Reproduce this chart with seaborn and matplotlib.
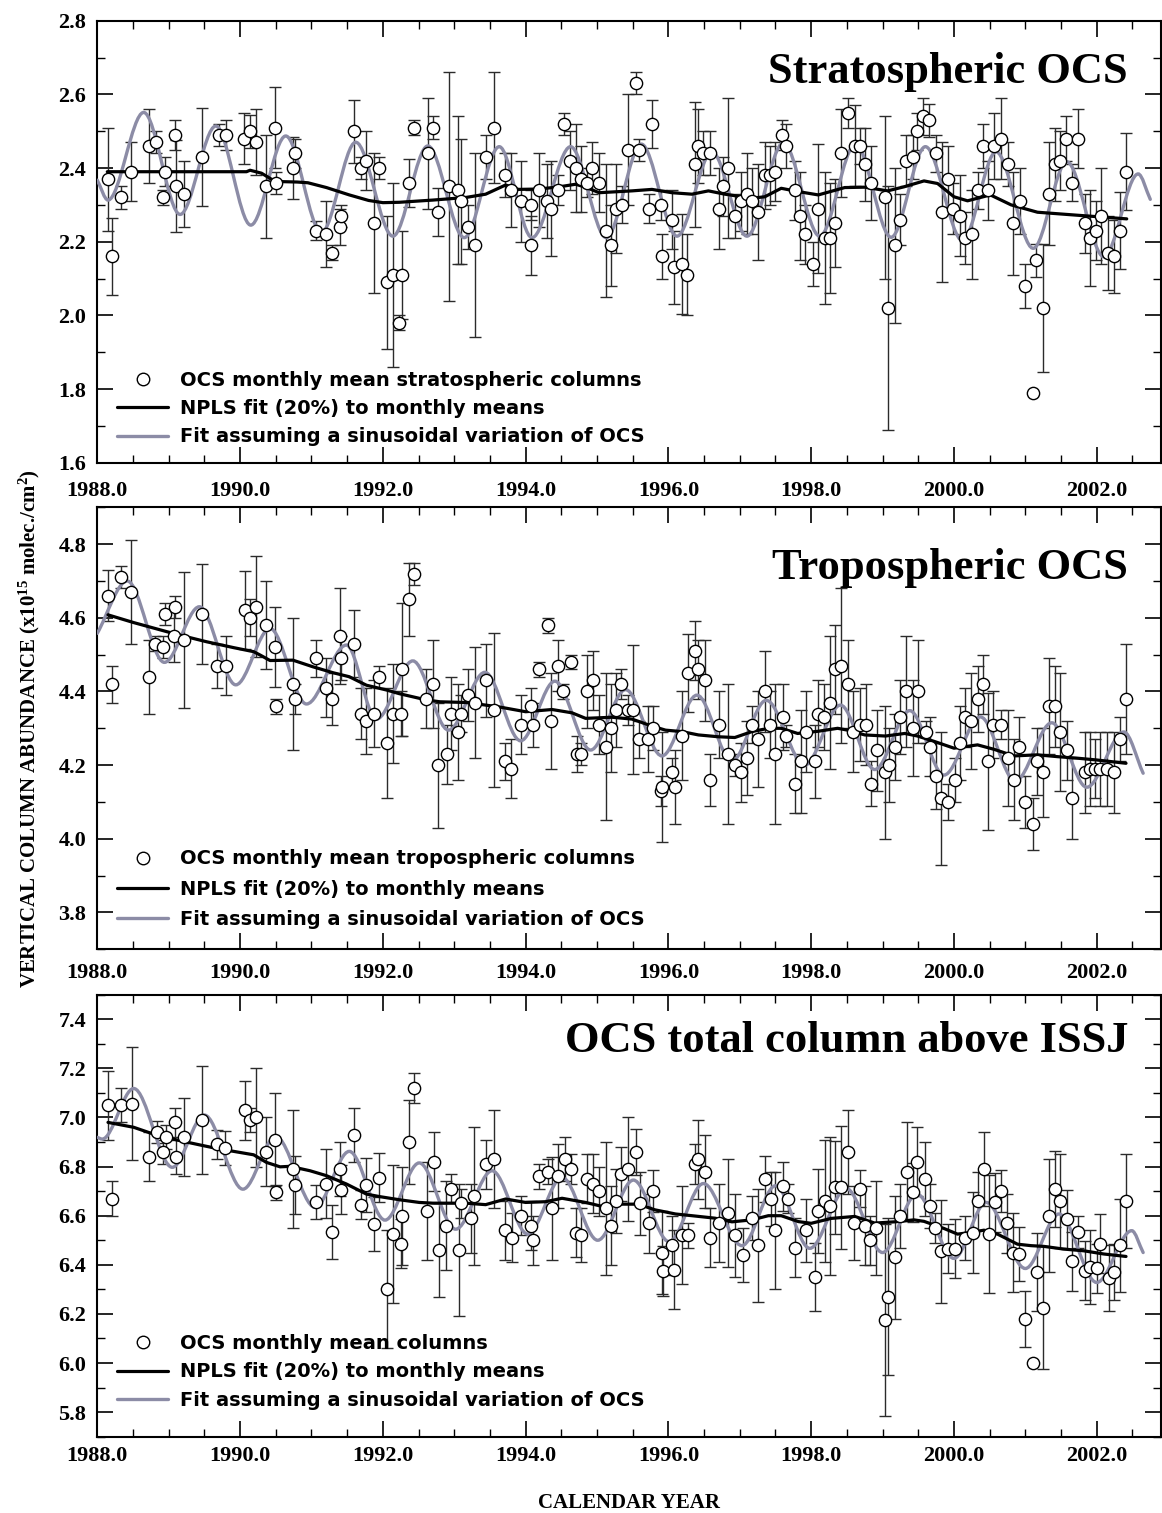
import numpy as np
import pandas as pd
import matplotlib
matplotlib.use("Agg")
import matplotlib.pyplot as plt
import seaborn as sns
from matplotlib.path import Path
from matplotlib.patches import PathPatch
from matplotlib.lines import Line2D

# ---------------- DATA ----------------
strat_year = [1988.15,1988.20,1988.33,1988.47,1988.72,1988.82,1988.92,1988.95,1989.09,1989.10,
              1989.21,1989.46,1989.70,1989.80,1990.06,1990.14,1990.22,1990.37,1990.49,1990.50,
              1990.74,1990.77,1991.06,1991.20,1991.29,1991.40,1991.41,1991.60,1991.69,1991.77,
              1991.88,1991.95,1992.06,1992.14,1992.23,1992.27,1992.36,1992.44,1992.63,1992.70,
              1992.77,1992.92,1993.05,1993.10,1993.19,1993.29,1993.44,1993.56,1993.71,1993.79,
              1993.93,1994.07,1994.08,1994.19,1994.30,1994.36,1994.46,1994.54,1994.62,1994.70,
              1994.77,1994.86,1994.93,1995.03,1995.13,1995.19,1995.26,1995.35,1995.44,1995.54,
              1995.59,1995.73,1995.77,1995.90,1995.91,1996.05,1996.08,1996.19,1996.26,1996.37,
              1996.42,1996.49,1996.58,1996.71,1996.77,1996.83,1996.93,1997.02,1997.10,1997.17,
              1997.25,1997.35,1997.42,1997.50,1997.59,1997.65,1997.77,1997.85,1997.92,1998.03,
              1998.09,1998.19,1998.27,1998.34,1998.42,1998.51,1998.61,1998.68,1998.76,1998.84,
              1999.03,1999.08,1999.17,1999.25,1999.33,1999.42,1999.48,1999.57,1999.65,1999.75,
              1999.83,1999.91,1999.99,2000.09,2000.16,2000.25,2000.33,2000.41,2000.48,2000.56,
              2000.66,2000.75,2000.83,2000.92,2000.99,2001.11,2001.15,2001.25,2001.33,2001.42,
              2001.49,2001.57,2001.65,2001.74,2001.83,2001.90,2001.99,2002.06,2002.16,2002.24,
              2002.33,2002.41]
strat_col = [2.37,2.16,2.32,2.39,2.46,2.47,2.32,2.39,2.49,2.35,
             2.33,2.43,2.49,2.49,2.48,2.50,2.47,2.35,2.51,2.36,
             2.40,2.44,2.23,2.22,2.17,2.24,2.27,2.50,2.40,2.42,
             2.25,2.40,2.09,2.11,1.98,2.11,2.36,2.51,2.44,2.51,
             2.28,2.35,2.34,2.31,2.24,2.19,2.43,2.51,2.38,2.34,
             2.31,2.30,2.19,2.34,2.31,2.29,2.34,2.52,2.42,2.40,
             2.37,2.36,2.40,2.36,2.23,2.19,2.29,2.30,2.45,2.63,
             2.45,2.29,2.52,2.30,2.16,2.26,2.13,2.14,2.11,2.41,
             2.46,2.44,2.44,2.29,2.35,2.40,2.27,2.31,2.33,2.31,
             2.28,2.38,2.38,2.39,2.49,2.46,2.34,2.27,2.22,2.14,
             2.29,2.21,2.21,2.25,2.44,2.55,2.46,2.46,2.41,2.36,
             2.32,2.02,2.19,2.26,2.42,2.43,2.50,2.54,2.53,2.44,
             2.28,2.37,2.29,2.27,2.21,2.22,2.34,2.46,2.34,2.46,
             2.48,2.41,2.25,2.31,2.08,1.79,2.15,2.02,2.33,2.41,
             2.42,2.48,2.36,2.48,2.25,2.21,2.23,2.27,2.17,2.16,
             2.23,2.39]
strat_err = [0.14,0.105,0.03,0.08,0.10,0.03,0.02,0.04,0.04,0.125,
             0.09,0.133,0.03,0.04,0.07,0.045,0.09,0.14,0.11,0.03,
             0.083,0.04,0.025,0.09,0.02,0.05,0.03,0.085,0.03,0.08,
             0.19,0.03,0.18,0.25,0.02,0.12,0.065,0.02,0.15,0.03,
             0.065,0.31,0.20,0.17,0.06,0.25,0.06,0.15,0.06,0.10,
             0.11,0.04,0.08,0.10,0.10,0.13,0.04,0.03,0.08,0.12,
             0.09,0.04,0.07,0.08,0.18,0.11,0.12,0.05,0.15,0.03,
             0.03,0.04,0.065,0.04,0.06,0.08,0.10,0.135,0.11,0.17,
             0.10,0.06,0.06,0.11,0.08,0.19,0.06,0.08,0.11,0.09,
             0.13,0.09,0.08,0.08,0.04,0.06,0.08,0.12,0.08,0.06,
             0.175,0.18,0.15,0.12,0.12,0.04,0.11,0.05,0.10,0.10,
             0.22,0.33,0.21,0.07,0.07,0.06,0.05,0.05,0.045,0.05,
             0.19,0.09,0.07,0.11,0.07,0.12,0.05,0.06,0.08,0.09,
             0.11,0.06,0.14,0.09,0.06,0.0,0.045,0.175,0.14,0.10,
             0.08,0.06,0.05,0.08,0.08,0.13,0.08,0.13,0.10,0.10,
             0.105,0.105]
strat_npls_year = [1988.14,1988.60,1989.20,1989.80,1990.09,1990.14,1990.30,1990.47,1990.60,1990.80,
                   1990.95,1991.21,1991.53,1991.80,1992.00,1992.23,1992.70,1993.16,1993.44,1993.72,
                   1993.90,1994.19,1994.47,1994.70,1994.84,1995.03,1995.49,1995.77,1996.05,1996.33,
                   1996.56,1996.79,1997.17,1997.35,1997.58,1997.82,1998.10,1998.47,1998.75,1999.07,
                   1999.30,1999.58,1999.77,2000.00,2000.19,2000.51,2000.80,2001.17,2001.72,2002.42]
strat_npls = [2.390,2.390,2.390,2.390,2.390,2.394,2.386,2.366,2.363,2.362,
              2.360,2.347,2.327,2.312,2.306,2.307,2.313,2.320,2.329,2.354,
              2.342,2.343,2.349,2.356,2.348,2.333,2.338,2.342,2.333,2.329,
              2.338,2.329,2.318,2.322,2.345,2.336,2.327,2.347,2.348,2.338,
              2.349,2.365,2.358,2.322,2.311,2.327,2.300,2.280,2.272,2.262]
strat_sin_year = [1988.00,1988.15,1988.65,1989.16,1989.66,1990.15,1990.64,1991.14,1991.62,1992.14,
                  1992.63,1993.14,1993.63,1994.09,1994.63,1995.13,1995.62,1996.12,1996.61,1997.10,
                  1997.61,1998.12,1998.62,1999.12,1999.60,2000.12,2000.59,2001.11,2001.58,2002.10,
                  2002.58,2002.75]
strat_sin = [2.367,2.313,2.551,2.274,2.514,2.245,2.487,2.225,2.470,2.215,
             2.460,2.211,2.458,2.211,2.458,2.211,2.465,2.215,2.444,2.215,
             2.468,2.215,2.465,2.212,2.458,2.203,2.444,2.182,2.417,2.159,
             2.384,2.315]

trop_year = [1988.15,1988.20,1988.33,1988.47,1988.73,1988.81,1988.92,1988.95,1989.08,1989.09,
             1989.22,1989.46,1989.67,1989.80,1990.07,1990.14,1990.22,1990.37,1990.49,1990.50,
             1990.74,1990.77,1991.07,1991.20,1991.29,1991.40,1991.41,1991.60,1991.69,1991.77,
             1991.88,1991.95,1992.06,1992.14,1992.26,1992.27,1992.36,1992.44,1992.61,1992.70,
             1992.77,1992.90,1992.96,1993.05,1993.10,1993.19,1993.29,1993.44,1993.56,1993.71,
             1993.80,1993.94,1994.07,1994.10,1994.19,1994.31,1994.36,1994.46,1994.53,1994.63,
             1994.72,1994.77,1994.86,1994.95,1995.03,1995.12,1995.19,1995.27,1995.34,1995.43,
             1995.51,1995.59,1995.72,1995.78,1995.90,1995.91,1996.05,1996.09,1996.19,1996.27,
             1996.37,1996.42,1996.51,1996.58,1996.71,1996.84,1996.93,1997.02,1997.10,1997.17,
             1997.25,1997.35,1997.42,1997.50,1997.61,1997.65,1997.77,1997.86,1997.93,1998.05,
             1998.10,1998.18,1998.26,1998.34,1998.42,1998.51,1998.58,1998.68,1998.77,1998.84,
             1998.92,1999.03,1999.09,1999.17,1999.25,1999.33,1999.42,1999.49,1999.61,1999.67,
             1999.75,1999.82,1999.91,2000.01,2000.09,2000.15,2000.24,2000.33,2000.41,2000.48,
             2000.55,2000.66,2000.75,2000.84,2000.91,2000.99,2001.11,2001.16,2001.25,2001.33,
             2001.42,2001.49,2001.58,2001.65,2001.83,2001.90,2001.98,2002.05,2002.14,2002.24,
             2002.33,2002.41]
trop_col = [4.66,4.42,4.71,4.67,4.44,4.53,4.52,4.61,4.55,4.63,
            4.54,4.61,4.47,4.47,4.62,4.60,4.63,4.58,4.52,4.36,
            4.42,4.38,4.49,4.41,4.38,4.55,4.49,4.53,4.34,4.32,
            4.34,4.44,4.26,4.34,4.34,4.46,4.65,4.72,4.38,4.42,
            4.20,4.23,4.34,4.29,4.34,4.39,4.37,4.43,4.35,4.21,
            4.19,4.31,4.36,4.31,4.46,4.58,4.32,4.47,4.40,4.48,
            4.23,4.23,4.40,4.43,4.31,4.25,4.30,4.35,4.42,4.35,
            4.35,4.27,4.27,4.30,4.13,4.14,4.18,4.14,4.28,4.45,
            4.51,4.46,4.43,4.16,4.31,4.23,4.20,4.18,4.22,4.31,
            4.27,4.40,4.31,4.23,4.33,4.28,4.15,4.21,4.29,4.21,
            4.34,4.33,4.37,4.46,4.47,4.42,4.29,4.31,4.31,4.15,
            4.24,4.18,4.20,4.25,4.33,4.40,4.30,4.40,4.29,4.25,
            4.17,4.11,4.10,4.16,4.26,4.33,4.32,4.38,4.42,4.21,
            4.31,4.31,4.22,4.16,4.25,4.10,4.04,4.21,4.18,4.36,
            4.36,4.29,4.24,4.11,4.18,4.19,4.19,4.19,4.19,4.18,
            4.27,4.38]
trop_err = [0.07,0.05,0.03,0.14,0.10,0.02,0.03,0.03,0.07,0.03,
            0.185,0.135,0.06,0.08,0.106,0.05,0.137,0.12,0.108,0.02,
            0.18,0.04,0.05,0.08,0.07,0.13,0.06,0.09,0.07,0.09,
            0.09,0.03,0.15,0.135,0.06,0.18,0.10,0.03,0.08,0.12,
            0.17,0.08,0.10,0.13,0.05,0.07,0.15,0.10,0.21,0.05,
            0.08,0.08,0.05,0.06,0.02,0.02,0.13,0.07,0.02,0.02,
            0.05,0.03,0.10,0.08,0.08,0.20,0.12,0.10,0.04,0.04,
            0.175,0.05,0.09,0.06,0.04,0.15,0.04,0.10,0.12,0.105,
            0.08,0.08,0.11,0.07,0.09,0.19,0.03,0.08,0.10,0.05,
            0.13,0.11,0.09,0.19,0.09,0.03,0.08,0.14,0.11,0.10,
            0.09,0.09,0.18,0.12,0.21,0.12,0.11,0.10,0.11,0.06,
            0.11,0.18,0.10,0.09,0.10,0.15,0.13,0.14,0.03,0.08,
            0.09,0.18,0.05,0.06,0.10,0.08,0.13,0.09,0.08,0.185,
            0.09,0.04,0.13,0.11,0.08,0.07,0.07,0.09,0.12,0.13,
            0.11,0.16,0.08,0.11,0.11,0.10,0.08,0.10,0.10,0.11,
            0.06,0.15]
trop_npls_year = [1988.15,1988.51,1988.98,1989.26,1989.53,1989.91,1990.19,1990.28,1990.42,1990.74,
                  1991.02,1991.30,1991.53,1991.77,1992.05,1992.23,1992.61,1992.80,1993.17,1993.44,
                  1993.63,1994.00,1994.37,1994.65,1994.84,1995.21,1995.49,1995.77,1995.96,1996.19,
                  1996.42,1996.70,1996.93,1997.17,1997.40,1997.58,1997.81,1998.10,1998.37,1998.51,
                  1998.75,1999.04,1999.31,1999.49,1999.73,2000.00,2000.33,2000.56,2000.84,2001.17,
                  2001.45,2001.72,2002.00,2002.41]
trop_npls = [4.608,4.587,4.562,4.548,4.535,4.519,4.508,4.499,4.484,4.485,
             4.467,4.451,4.440,4.417,4.404,4.394,4.377,4.372,4.370,4.363,
             4.358,4.345,4.351,4.342,4.327,4.330,4.325,4.306,4.295,4.291,
             4.282,4.277,4.275,4.291,4.300,4.300,4.286,4.292,4.300,4.295,
             4.282,4.279,4.286,4.279,4.264,4.246,4.255,4.243,4.225,4.228,
             4.223,4.219,4.214,4.205]
trop_sin_year = [1988.00,1988.42,1988.94,1989.43,1989.94,1990.42,1990.93,1991.49,1991.91,1992.42,
                 1992.92,1993.43,1993.93,1994.41,1994.91,1995.40,1995.91,1996.40,1996.89,1997.37,
                 1997.91,1998.41,1998.89,1999.38,1999.86,2000.37,2000.86,2001.37,2001.86,2002.38,
                 2002.65]
trop_sin = [4.558,4.700,4.479,4.630,4.418,4.571,4.366,4.526,4.325,4.483,
            4.295,4.452,4.266,4.428,4.241,4.405,4.225,4.390,4.211,4.376,
            4.200,4.363,4.188,4.348,4.173,4.331,4.157,4.315,4.140,4.290,
            4.178]

total_year = [1988.15,1988.20,1988.33,1988.49,1988.73,1988.83,1988.92,1988.96,1989.09,1989.10,
              1989.22,1989.47,1989.68,1989.79,1990.07,1990.14,1990.22,1990.37,1990.49,1990.51,
              1990.74,1990.77,1991.07,1991.20,1991.29,1991.40,1991.41,1991.60,1991.69,1991.77,
              1991.88,1991.95,1992.06,1992.14,1992.26,1992.27,1992.36,1992.44,1992.62,1992.71,
              1992.78,1992.89,1992.96,1993.07,1993.09,1993.24,1993.28,1993.45,1993.56,1993.71,
              1993.81,1993.94,1994.07,1994.10,1994.19,1994.32,1994.37,1994.46,1994.55,1994.63,
              1994.71,1994.77,1994.86,1994.95,1995.03,1995.12,1995.19,1995.26,1995.33,1995.44,
              1995.54,1995.60,1995.73,1995.78,1995.91,1995.92,1996.05,1996.08,1996.19,1996.27,
              1996.37,1996.42,1996.51,1996.58,1996.71,1996.83,1996.93,1997.04,1997.17,1997.25,
              1997.35,1997.44,1997.50,1997.61,1997.68,1997.77,1997.93,1998.05,1998.10,1998.19,
              1998.26,1998.33,1998.42,1998.52,1998.60,1998.68,1998.76,1998.83,1998.91,1999.03,
              1999.08,1999.17,1999.25,1999.34,1999.42,1999.48,1999.60,1999.67,1999.73,1999.82,
              1999.92,2000.01,2000.15,2000.26,2000.34,2000.42,2000.49,2000.57,2000.66,2000.74,
              2000.82,2000.91,2000.99,2001.11,2001.17,2001.25,2001.33,2001.42,2001.49,2001.58,
              2001.65,2001.74,2001.83,2001.91,2002.00,2002.05,2002.17,2002.24,2002.33,2002.41]
total_col = [7.05,6.67,7.05,7.055,6.84,6.94,6.86,6.92,6.98,6.84,
             6.92,6.99,6.89,6.875,7.03,6.99,7.00,6.86,6.91,6.695,
             6.79,6.725,6.655,6.73,6.535,6.79,6.705,6.93,6.645,6.725,
             6.565,6.755,6.30,6.525,6.485,6.60,6.90,7.12,6.62,6.82,
             6.46,6.56,6.71,6.46,6.65,6.59,6.68,6.81,6.83,6.54,
             6.51,6.60,6.56,6.50,6.76,6.78,6.63,6.76,6.83,6.79,
             6.53,6.52,6.75,6.73,6.70,6.63,6.56,6.66,6.77,6.79,
             6.86,6.65,6.57,6.70,6.45,6.375,6.48,6.38,6.52,6.52,
             6.81,6.83,6.78,6.51,6.57,6.61,6.52,6.44,6.59,6.48,
             6.75,6.67,6.54,6.72,6.67,6.47,6.54,6.35,6.62,6.66,
             6.64,6.715,6.715,6.86,6.57,6.71,6.56,6.50,6.55,6.175,
             6.27,6.43,6.60,6.78,6.695,6.82,6.75,6.64,6.55,6.455,
             6.465,6.465,6.51,6.53,6.66,6.79,6.525,6.655,6.70,6.57,
             6.45,6.445,6.18,6.00,6.37,6.225,6.60,6.71,6.66,6.585,
             6.415,6.535,6.375,6.39,6.385,6.485,6.345,6.37,6.48,6.66]
total_err = [0.14,0.073,0.07,0.23,0.10,0.045,0.05,0.05,0.06,0.07,
             0.16,0.22,0.06,0.07,0.12,0.05,0.20,0.14,0.19,0.03,
             0.24,0.12,0.07,0.14,0.11,0.11,0.10,0.11,0.06,0.11,
             0.11,0.10,0.24,0.28,0.10,0.20,0.17,0.06,0.20,0.12,
             0.19,0.18,0.06,0.27,0.06,0.14,0.28,0.10,0.20,0.12,
             0.10,0.08,0.10,0.10,0.05,0.05,0.21,0.13,0.09,0.06,
             0.10,0.11,0.10,0.12,0.10,0.27,0.16,0.13,0.11,0.21,
             0.095,0.13,0.12,0.085,0.17,0.10,0.12,0.16,0.20,0.05,
             0.08,0.16,0.15,0.12,0.16,0.22,0.17,0.11,0.09,0.23,
             0.095,0.11,0.24,0.10,0.06,0.12,0.13,0.14,0.17,0.25,
             0.28,0.19,0.25,0.17,0.15,0.075,0.16,0.10,0.19,0.39,
             0.32,0.25,0.13,0.20,0.12,0.14,0.15,0.09,0.06,0.21,
             0.10,0.12,0.09,0.165,0.12,0.15,0.24,0.12,0.085,0.12,
             0.16,0.11,0.115,0.0,0.16,0.25,0.23,0.155,0.19,0.12,
             0.12,0.065,0.12,0.15,0.10,0.12,0.135,0.115,0.19,0.19]
total_npls_year = [1988.15,1988.51,1988.79,1989.12,1989.44,1989.72,1989.91,1990.19,1990.37,1990.56,
                   1990.70,1990.98,1991.21,1991.49,1991.77,1991.95,1992.23,1992.51,1992.70,1993.16,
                   1993.44,1993.72,1994.00,1994.28,1994.51,1994.84,1995.07,1995.30,1995.58,1995.81,
                   1996.10,1996.33,1996.65,1996.89,1997.17,1997.40,1997.58,1997.82,1998.00,1998.28,
                   1998.61,1998.89,1999.17,1999.44,1999.58,1999.86,2000.05,2000.24,2000.42,2000.61,
                   2000.89,2001.08,2001.26,2001.54,2001.82,2002.10,2002.41]
total_npls = [6.980,6.960,6.932,6.908,6.888,6.871,6.862,6.848,6.817,6.799,
              6.801,6.783,6.763,6.729,6.688,6.678,6.665,6.654,6.651,6.651,
              6.645,6.668,6.654,6.657,6.671,6.654,6.638,6.647,6.647,6.624,
              6.607,6.600,6.590,6.575,6.583,6.600,6.600,6.576,6.569,6.589,
              6.597,6.570,6.575,6.583,6.577,6.548,6.525,6.532,6.541,6.525,
              6.484,6.478,6.475,6.464,6.457,6.444,6.434]
total_sin_year = [1988.00,1988.07,1988.51,1989.05,1989.50,1990.04,1990.50,1991.05,1991.53,1992.03,
                  1992.51,1993.02,1993.53,1994.03,1994.51,1995.01,1995.51,1996.01,1996.49,1997.03,
                  1997.50,1997.98,1998.49,1999.00,1999.48,2000.00,2000.45,2001.00,2001.47,2002.00,
                  2002.49,2002.65]
total_sin = [6.919,6.912,7.118,6.797,7.010,6.708,6.922,6.634,6.862,6.582,
             6.815,6.545,6.783,6.525,6.756,6.500,6.745,6.494,6.731,6.478,
             6.722,6.467,6.711,6.450,6.688,6.426,6.654,6.385,6.607,6.328,
             6.539,6.450]

titles = ["Stratospheric OCS", "Tropospheric OCS", "OCS total column above ISSJ"]
legend_first = ["OCS monthly mean stratospheric columns",
                "OCS monthly mean tropospheric columns",
                "OCS monthly mean columns"]
legend_line = "NPLS fit (20%) to monthly means"
legend_sin = "Fit assuming a sinusoidal variation of OCS"
ylims = [(1.6, 2.8), (3.7, 4.9), (5.7, 7.5)]
yticks = [[1.6, 1.8, 2.0, 2.2, 2.4, 2.6, 2.8],
          [3.8, 4.0, 4.2, 4.4, 4.6, 4.8],
          [5.8, 6.0, 6.2, 6.4, 6.6, 6.8, 7.0, 7.2, 7.4]]
xticks = [1988.0, 1990.0, 1992.0, 1994.0, 1996.0, 1998.0, 2000.0, 2002.0]

# ---------------- STYLE ----------------
sns.set_theme(style="ticks")
plt.rcParams.update({
    "font.family": ["Liberation Serif", "DejaVu Serif"],
    "font.weight": "bold",
    "text.color": "black",
    "axes.labelcolor": "black",
    "xtick.color": "black",
    "ytick.color": "black",
    "xtick.labelcolor": "black",
    "ytick.labelcolor": "black",
    "axes.linewidth": 1.5,
    "axes.edgecolor": "black",
    "mathtext.fontset": "custom",
    "mathtext.rm": "Liberation Serif:bold",
    "mathtext.it": "Liberation Serif:bold",
    "mathtext.bf": "Liberation Serif:bold",
})
GRAY = "#8c8ca6"

def smooth_path(ts, vs):
    n = len(ts)
    def slope(i):
        if i == 0:
            return (vs[1] - vs[0]) / (ts[1] - ts[0])
        if i == n - 1:
            return (vs[-1] - vs[-2]) / (ts[-1] - ts[-2])
        return 0.0
    verts = [(ts[0], vs[0])]
    codes = [Path.MOVETO]
    for i in range(n - 1):
        d = (ts[i + 1] - ts[i]) / 3.0
        verts += [(ts[i] + d, vs[i] + slope(i) * d),
                  (ts[i + 1] - d, vs[i + 1] - slope(i + 1) * d),
                  (ts[i + 1], vs[i + 1])]
        codes += [Path.CURVE4] * 3
    return Path(verts, codes)

fig = plt.figure(figsize=(11.62, 15.13), dpi=100)
L = 97.3 / 1162
W = (1161 - 97.3) / 1162
H = 442 / 1513
rects = [[L, 1 - 462.7 / 1513, W, H],
         [L, 1 - 949.3 / 1513, W, H],
         [L, 1 - 1436.7 / 1513, W, H]]

panels = [
    (strat_year, strat_col, strat_err, strat_npls_year, strat_npls, strat_sin_year, strat_sin),
    (trop_year, trop_col, trop_err, trop_npls_year, trop_npls, trop_sin_year, trop_sin),
    (total_year, total_col, total_err, total_npls_year, total_npls, total_sin_year, total_sin),
]
title_y = [0.858, 0.838, 0.870]
leg_y = [0.037, 0.046, 0.060]
leg_sp = [0.48, 0.58, 0.50]
xpad = [13, 10, 7]

for k, (yr, col, err, nyr, nv, syr, sv) in enumerate(panels):
    ax = fig.add_axes(rects[k])
    df = pd.DataFrame({"year": yr, "col": col, "err": err})
    ax.errorbar(df["year"], df["col"], yerr=df["err"], fmt="none",
                ecolor="#2b2b2b", elinewidth=1.0, capsize=4, capthick=1.0, zorder=2)
    ax.add_patch(PathPatch(smooth_path(syr, sv), fill=False, edgecolor=GRAY,
                           lw=2.4, zorder=3, capstyle="round"))
    sns.lineplot(x=nyr, y=nv, ax=ax, color="black", lw=2.3, zorder=4,
                 estimator=None, sort=False, legend=False)
    sns.scatterplot(data=df, x="year", y="col", ax=ax, marker="o", s=78,
                    color="white", edgecolor="black", linewidth=1.0, zorder=5, legend=False)

    ax.set_xlim(1988.0, 2002.9)
    ax.set_ylim(*ylims[k])
    ax.set_xticks(xticks)
    ax.set_xticks(np.arange(1988.0, 2002.9, 0.5), minor=True)
    ax.set_yticks(yticks[k])
    ax.set_yticks(np.round(np.arange(ylims[k][0], ylims[k][1] + 0.001, 0.1), 2), minor=True)
    ax.set_xticklabels([f"{t:.1f}" for t in xticks])
    ax.set_yticklabels([f"{t:.1f}" for t in yticks[k]])
    ax.tick_params(which="both", direction="in", top=True, right=True, colors="black")
    ax.tick_params(which="major", length=11.5, width=1.2, labelsize=16)
    ax.tick_params(which="minor", length=5.8, width=1.0)
    ax.tick_params(axis="y", which="major", pad=8)
    ax.tick_params(axis="x", which="major", pad=xpad[k])
    for lab in ax.get_xticklabels() + ax.get_yticklabels():
        lab.set_fontweight("bold")
        lab.set_color("black")
    ax.set_xlabel("")
    ax.set_ylabel("")
    for s in ax.spines.values():
        s.set_visible(True)
        s.set_linewidth(1.5)
        s.set_color("black")

    ax.text(0.969, title_y[k], titles[k], transform=ax.transAxes, ha="right",
            va="baseline", fontsize=32, fontweight="bold", family="Liberation Serif",
            color="black")

    handles = [Line2D([], [], ls="none", marker="o", ms=9, mfc="white", mec="black", mew=1.0),
               Line2D([], [], color="black", lw=2.3),
               Line2D([], [], color=GRAY, lw=2.4)]
    leg = ax.legend(handles, [legend_first[k], legend_line, legend_sin],
                    loc="lower left", bbox_to_anchor=(0.0188, leg_y[k]), frameon=False,
                    borderpad=0, borderaxespad=0, handlelength=2.6, handletextpad=0.6,
                    labelspacing=leg_sp[k],
                    prop={"family": "DejaVu Sans", "weight": "bold", "size": 14})
    for t in leg.get_texts():
        t.set_color("black")

fig.text(29 / 1162, 1 - 729 / 1513,
         r"VERTICAL COLUMN ABUNDANCE (x10$^{15}$ molec./cm$^{2}$)",
         rotation=90, ha="center", va="center", fontsize=15, fontweight="bold",
         family="Liberation Serif", color="black")
fig.text(629 / 1162, 1 - 1503 / 1513, "CALENDAR YEAR", ha="center", va="center",
         fontsize=15, fontweight="bold", family="Liberation Serif", color="black")

fig.savefig("out.png", dpi=100)
